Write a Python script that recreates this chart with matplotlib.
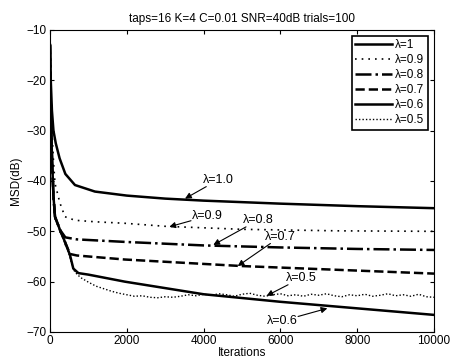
import matplotlib
matplotlib.use("Agg")
import matplotlib.pyplot as plt

plt.rcParams['font.family'] = ['Liberation Sans', 'DejaVu Sans']

# curves (iteration, MSD in dB)
it_l10 = [0, 20, 50, 90, 150, 250, 400, 650, 1170, 2000, 3000, 4000, 6000, 8000, 10000]
msd_l10 = [-13, -20, -26, -30, -32.5, -35.5, -38.6, -40.8, -42.1, -42.9, -43.5, -43.9, -44.5, -45.0, -45.4]

it_l09 = [0, 20, 50, 90, 130, 260, 390, 650, 1170, 1950, 3000, 5000, 7500, 10000]
msd_l09 = [-13, -22, -30, -36, -40.5, -44.4, -47.1, -47.8, -48.1, -48.4, -49.0, -49.6, -49.9, -50.0]

it_l08 = [0, 20, 50, 90, 130, 260, 400, 700, 1950, 4000, 6000, 8000, 10000]
msd_l08 = [-13, -25, -35, -43, -47.1, -49.7, -51.2, -51.6, -52.1, -52.8, -53.2, -53.5, -53.7]

it_l07 = [0, 20, 50, 90, 130, 260, 390, 520, 700, 1950, 5000, 8000, 10000]
msd_l07 = [-13, -25, -35, -43, -47.1, -49.7, -52.1, -54.5, -54.8, -55.6, -56.9, -57.8, -58.4]

it_l06 = [0, 20, 50, 90, 130, 260, 390, 520, 607, 740, 1000, 1950, 4000, 6000, 8000, 10000]
msd_l06 = [-13, -25, -35, -43, -47.1, -49.7, -52.1, -54.7, -57.4, -58.3, -58.6, -60.0, -62.5, -64.0, -65.3, -66.6]

it_l05 = [0, 20, 50, 90, 130, 200, 260, 330, 390, 450, 520, 607, 700] + list(range(800, 10001, 200))
msd_l05 = [-13, -25, -35, -43, -47.5, -48.6, -50.2, -50.9, -52.6, -53.4, -55.2, -57.6, -58.5,
           -59.2, -60.1, -60.9, -61.4, -61.9, -62.3, -62.6, -62.9, -62.8, -63.1,
           -63.2, -63.0, -63.1, -62.9, -62.6, -62.8, -62.5, -62.7, -62.4, -62.6,
           -62.9, -62.5, -62.3, -62.7, -62.9, -62.6, -62.4, -62.8, -62.6, -62.9,
           -62.5, -62.7, -62.4, -62.8, -63.0, -62.6, -62.8, -62.5, -62.9, -62.7,
           -62.4, -62.8, -62.6, -62.9, -62.5, -63.0, -63.1]

legend_labels = ['λ=1', 'λ=0.9', 'λ=0.8', 'λ=0.7', 'λ=0.6', 'λ=0.5']

# annotation: label, arrow tip (iter, dB), text centre (iter, dB)
notes = [
    ('λ=1.0', (3516, -43.5), (4375, -39.8)),
    ('λ=0.9', (3107, -49.1), (4090, -47.0)),
    ('λ=0.8', (4253, -52.7), (5417, -47.8)),
    ('λ=0.7', (4888, -56.9), (5990, -51.1)),
    ('λ=0.5', (5642, -62.8), (6536, -59.3)),
    ('λ=0.6', (7222, -65.3), (6042, -67.8)),
]

fig = plt.figure(figsize=(4.51, 3.61), dpi=100)
ax = fig.add_axes([50 / 451, 1 - 332 / 361, 384 / 451, 302 / 361])

ax.plot(it_l10, msd_l10, color='k', ls='-', lw=1.8, label=legend_labels[0])
ax.plot(it_l09, msd_l09, color='k', ls=(0, (1, 3)), lw=1.2, label=legend_labels[1])
ax.plot(it_l08, msd_l08, color='k', ls='-.', lw=1.8, label=legend_labels[2])
ax.plot(it_l07, msd_l07, color='k', ls='--', lw=1.8, label=legend_labels[3])
ax.plot(it_l06, msd_l06, color='k', ls='-', lw=1.8, label=legend_labels[4])
ax.plot(it_l05, msd_l05, color='k', ls=(0, (1, 1.5)), lw=1.0, label=legend_labels[5])

for txt, tip, pos in notes:
    ax.annotate(txt, xy=tip, xytext=pos, fontsize=9, ha='center', va='center',
                bbox=dict(boxstyle='square,pad=0.05', fc='none', ec='none'),
                arrowprops=dict(arrowstyle='-|>', color='k', lw=0.8,
                                mutation_scale=9, shrinkA=0, shrinkB=0))

ax.set_xlim(0, 10000)
ax.set_ylim(-70, -10)
ax.set_xticks(range(0, 10001, 2000))
ax.set_yticks(range(-70, -9, 10))
ax.tick_params(direction='in', top=True, right=True, labelsize=8.5, length=3, pad=2.5)
ax.set_xlabel('Iterations', fontsize=8.5, labelpad=0)
ax.set_ylabel('MSD(dB)', fontsize=8.5, labelpad=3)
ax.set_title('taps=16 K=4 C=0.01 SNR=40dB trials=100', fontsize=8.5, pad=6)

leg = ax.legend(loc='upper right', fontsize=8.5, handlelength=3.1, labelspacing=0.25,
                handletextpad=0.3, borderpad=0.3, borderaxespad=0.5, fancybox=False,
                framealpha=1, edgecolor='k')
leg.get_frame().set_linewidth(1.2)

fig.savefig('out.png', dpi=100)
